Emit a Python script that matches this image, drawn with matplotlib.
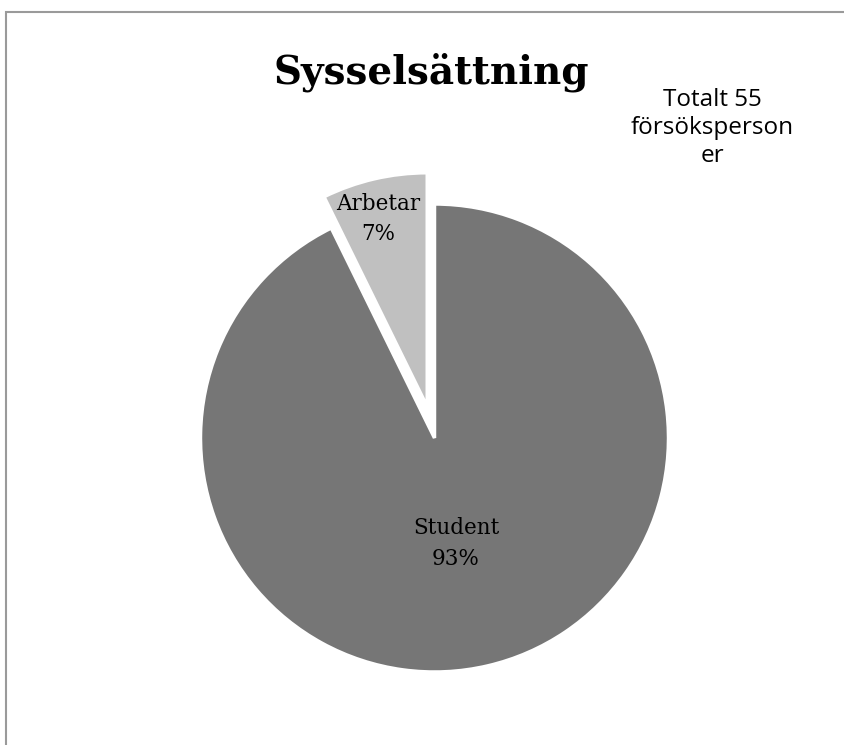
import numpy as np
import matplotlib.pyplot as plt
from matplotlib.patches import Rectangle

# Sysselsättning bland försökspersonerna
labels = ['Arbetar', 'Student']
counts = [4, 51]
colors = ['#c0c0c0', '#767676']
explode_frac = [0.137, 0.0]

title = 'Sysselsättning'
note = 'Totalt 55\nförsöksperson\ner'

W, H = 844, 745
fig = plt.figure(figsize=(W / 100, H / 100), dpi=100)
ax = fig.add_axes([0, 0, 1, 1])

cx, cy, r = 434.5, H - 438, 234

total = sum(counts)
pcts = [c / total * 100 for c in counts]

# pie() takes explode in data units, so scale by the radius
wedges, _ = ax.pie(counts, colors=colors,
                   explode=[e * r for e in explode_frac], startangle=90,
                   counterclock=True, center=(cx, cy), radius=r,
                   wedgeprops=dict(edgecolor='white', linewidth=2.5),
                   frame=True)
ax.set_xlim(0, W)
ax.set_ylim(0, H)
ax.set_aspect('equal')
ax.axis('off')

# label positions: (angle in degrees, distance as fraction of radius)
label_pos = [(104.5, 0.967), (-78.5, 0.46)]
for lab, p, (ang, dist) in zip(labels, pcts, label_pos):
    a = np.deg2rad(ang)
    ax.text(cx + dist * r * np.cos(a), cy + dist * r * np.sin(a),
            f'{lab}\n{p:.0f}%', ha='center', va='center',
            family='DejaVu Serif', fontsize=15.5, linespacing=1.5)

ax.text(431, H - 72, title, ha='center', va='center',
        family='DejaVu Serif', fontweight='bold', fontsize=28)
ax.text(712, H - 128, note, ha='center', va='center',
        family='Open Sans', fontsize=17.5, linespacing=1.25)

# chart frame
ax.add_patch(Rectangle((6, -20), W + 20, H - 12 + 20, fill=False,
                       edgecolor='#9a9a9a', linewidth=1.5, clip_on=False))

fig.savefig('out.png', dpi=100)
